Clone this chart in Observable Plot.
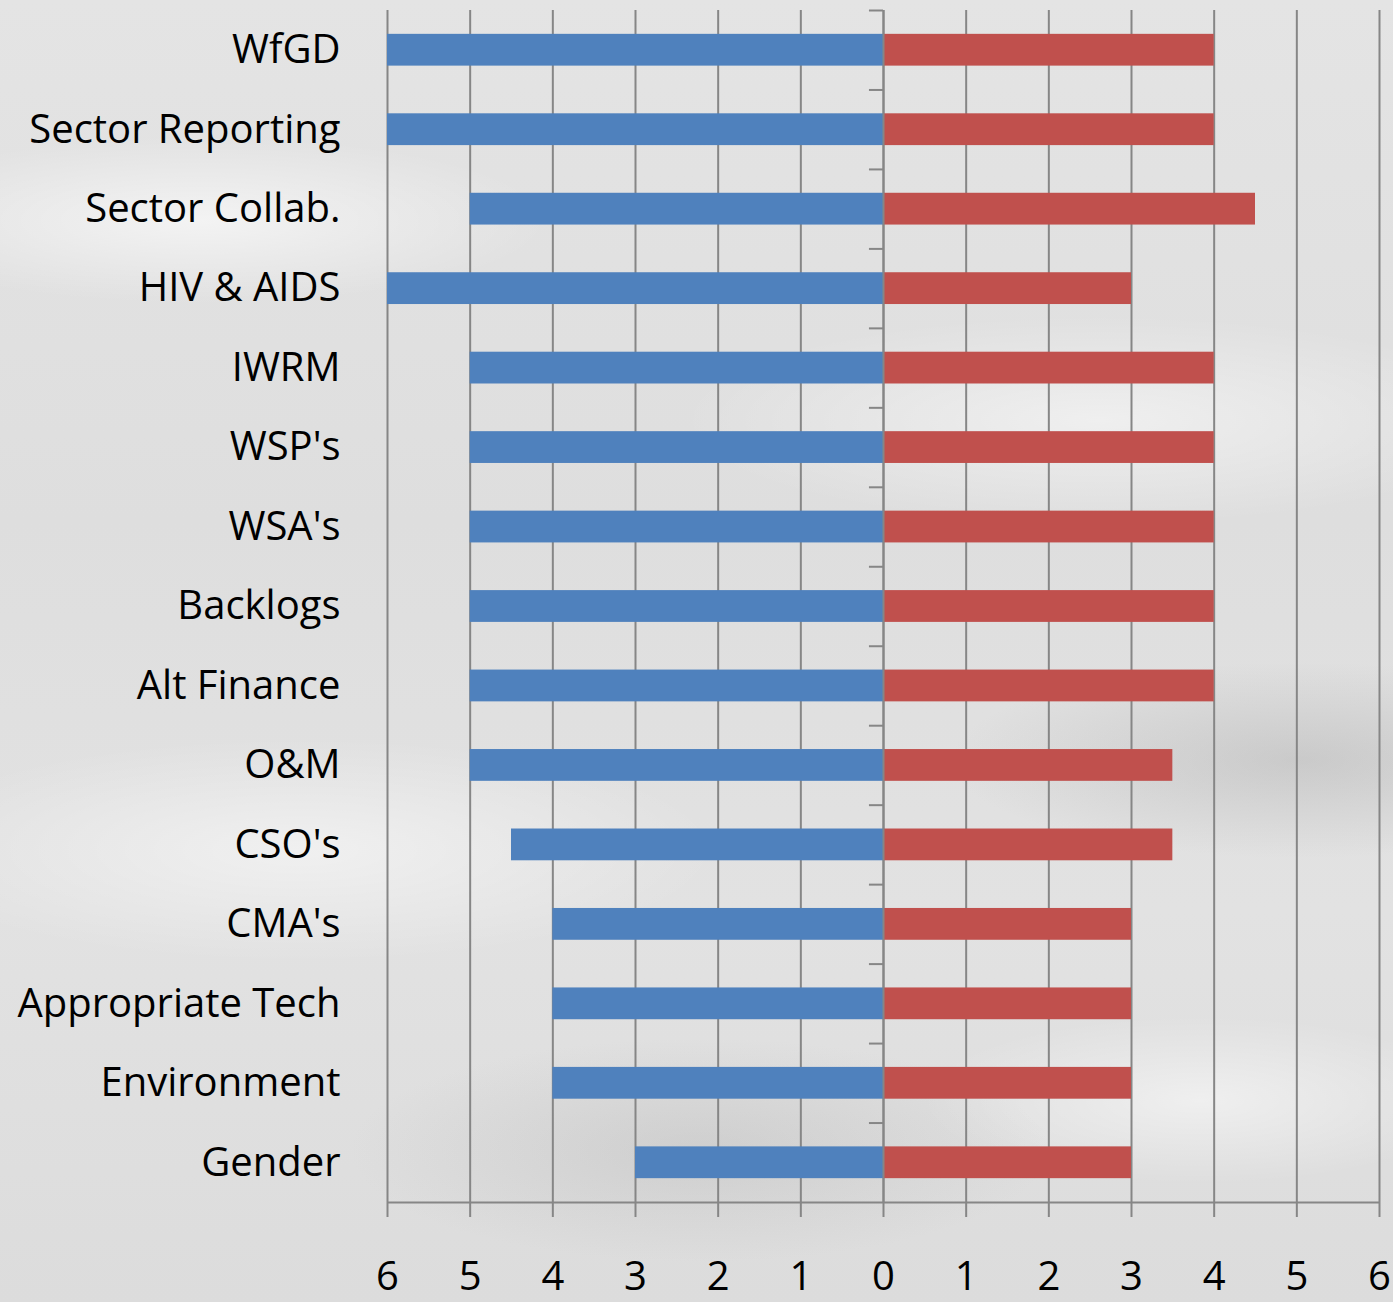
<!DOCTYPE html>
<html>
<head>
<meta charset="utf-8">
<script src="https://cdn.jsdelivr.net/npm/d3@7"></script>
<script src="https://cdn.jsdelivr.net/npm/@observablehq/plot@0.6"></script>
<style>
html, body { margin: 0; padding: 0; }
body {
  width: 1393px; height: 1302px; overflow: hidden;
  background:
    radial-gradient(ellipse 500px 120px at 200px 220px, rgba(255,255,255,0.6), rgba(255,255,255,0) 70%),
    radial-gradient(ellipse 600px 150px at 1100px 420px, rgba(255,255,255,0.5), rgba(255,255,255,0) 70%),
    radial-gradient(ellipse 500px 140px at 1300px 760px, rgba(160,160,160,0.35), rgba(160,160,160,0) 70%),
    radial-gradient(ellipse 600px 160px at 300px 850px, rgba(255,255,255,0.5), rgba(255,255,255,0) 70%),
    radial-gradient(ellipse 500px 160px at 700px 1150px, rgba(170,170,170,0.3), rgba(170,170,170,0) 70%),
    radial-gradient(ellipse 400px 120px at 1200px 1100px, rgba(255,255,255,0.5), rgba(255,255,255,0) 70%),
    linear-gradient(180deg, #e4e4e4 0%, #dedede 40%, #e2e2e2 70%, #dcdcdc 100%);
}
</style>
</head>
<body>
<div id="chart"></div>
<script>
const categories = ["WfGD", "Sector Reporting", "Sector Collab.", "HIV & AIDS", "IWRM", "WSP's", "WSA's", "Backlogs", "Alt Finance", "O&M", "CSO's", "CMA's", "Appropriate Tech", "Environment", "Gender"];
const leftValues = [6, 6, 5, 6, 5, 5, 5, 5, 5, 5, 4.5, 4, 4, 4, 3];
const rightValues = [4, 4, 4.5, 3, 4, 4, 4, 4, 4, 3.5, 3.5, 3, 3, 3, 3];
const xTicks = [-6, -5, -4, -3, -2, -1, 0, 1, 2, 3, 4, 5, 6];

const leftData = categories.map((c, i) => ({category: c, value: -leftValues[i]}));
const rightData = categories.map((c, i) => ({category: c, value: rightValues[i]}));

const W = 1393, H = 1302, mT = 10, mB = 100;
const halfStep = (H - mT - mB) / categories.length / 2;

const chart = Plot.plot({
  width: W,
  height: H,
  marginLeft: 387,
  marginRight: 14,
  marginTop: mT,
  marginBottom: mB,
  style: {background: "transparent", fontFamily: "'Open Sans', sans-serif", color: "#000"},
  x: {domain: [-6, 6]},
  y: {domain: categories, paddingInner: 0.6, paddingOuter: 0.3, round: false},
  marks: [
    Plot.ruleX(xTicks, {stroke: "#868686", strokeWidth: 2, strokeOpacity: 1}),
    Plot.barX(leftData, {y: "category", x1: 0, x2: "value", fill: "#4F81BD"}),
    Plot.barX(rightData, {y: "category", x1: 0, x2: "value", fill: "#C0504D"}),
    Plot.ruleX([0], {stroke: "#868686", strokeWidth: 2}),
    Plot.ruleY(categories, {y: d => d, x1: -0.17, x2: 0, dy: -halfStep, stroke: "#868686", strokeWidth: 2}),
    Plot.ruleY([categories[categories.length - 1]], {y: d => d, dy: halfStep, stroke: "#868686", strokeWidth: 2}),
    Plot.axisX({ticks: xTicks, tickSize: 15, tickPadding: 44, tickFormat: d => Math.abs(d), fontSize: 40, stroke: "#868686", strokeWidth: 2, strokeOpacity: 1, label: null}),
    Plot.axisY({tickSize: 0, tickPadding: 47, fontSize: 40, label: null})
  ]
});
chart.querySelectorAll("text").forEach(t => t.setAttribute("fill", "#000"));
document.getElementById("chart").appendChild(chart);
</script>
</body>
</html>
